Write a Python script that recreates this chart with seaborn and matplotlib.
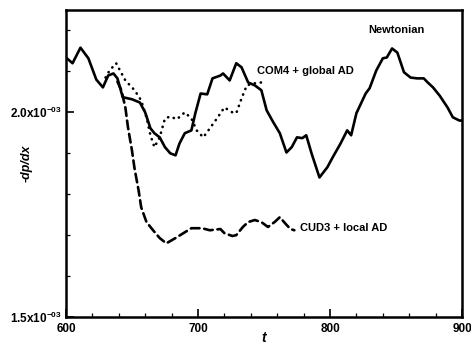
import numpy as np
import pandas as pd
import matplotlib
matplotlib.use("Agg")
import matplotlib.pyplot as plt
import seaborn as sns
from matplotlib.ticker import MultipleLocator, FixedLocator, FixedFormatter

# ---- data (y in units of 1e-3) ----
t_newt = [600, 605, 611, 617, 623, 628, 632, 636, 639, 643, 650, 656, 660, 664, 667,
          671, 675, 679, 683, 686, 690, 695, 698, 702, 707, 711, 717, 719, 724, 729,
          733, 738, 743, 748, 752, 757, 762, 767, 771, 775, 779, 782, 786, 792, 798,
          802, 808, 813, 816, 820, 827, 830, 835, 840, 843, 847, 851, 856, 861, 866,
          871, 874, 878, 883, 889, 893, 898, 900]
y_newt = [2.134, 2.120, 2.158, 2.132, 2.080, 2.061, 2.090, 2.095, 2.083, 2.037, 2.032,
          2.024, 2.000, 1.961, 1.949, 1.939, 1.915, 1.900, 1.895, 1.924, 1.949, 1.956,
          1.998, 2.046, 2.044, 2.083, 2.090, 2.095, 2.078, 2.120, 2.110, 2.073, 2.066,
          2.054, 2.005, 1.976, 1.949, 1.902, 1.915, 1.939, 1.937, 1.944, 1.900, 1.841,
          1.866, 1.890, 1.924, 1.956, 1.944, 1.998, 2.046, 2.059, 2.102, 2.132, 2.134,
          2.156, 2.146, 2.098, 2.085, 2.083, 2.083, 2.073, 2.061, 2.041, 2.012, 1.988,
          1.980, 1.980]

t_com4 = [630, 633, 638, 645, 652, 657, 661, 664, 667, 671, 675, 679, 684, 690, 695,
          699, 704, 709, 715, 720, 726, 729, 733, 737, 743, 748, 752]
y_com4 = [2.085, 2.102, 2.120, 2.078, 2.054, 2.029, 1.988, 1.944, 1.915, 1.939, 1.985,
          1.990, 1.983, 2.000, 1.985, 1.956, 1.939, 1.961, 1.988, 2.012, 2.000, 1.998,
          2.034, 2.066, 2.071, 2.073, 2.073]

t_cud3 = [639, 642, 645, 647, 650, 652, 655, 657, 661, 666, 671, 676, 683, 689, 695,
          703, 709, 717, 720, 726, 729, 734, 738, 743, 748, 753, 758, 762, 766, 770, 773]
y_cud3 = [2.075, 2.054, 2.012, 1.963, 1.907, 1.862, 1.810, 1.768, 1.732, 1.712, 1.693,
          1.680, 1.693, 1.705, 1.717, 1.717, 1.712, 1.715, 1.705, 1.698, 1.700, 1.720,
          1.732, 1.737, 1.732, 1.720, 1.732, 1.744, 1.729, 1.715, 1.712]

series_names = ["Newtonian", "COM4 + global AD", "CUD3 + local AD"]
ytick_vals = [1.5e-3, 2.0e-3]
ytick_labels = [r"$\mathbf{1.5x10^{-03}}$", r"$\mathbf{2.0x10^{-03}}$"]
xtick_vals = [600, 700, 800, 900]

df = pd.concat([
    pd.DataFrame({"t": t_newt, "v": np.array(y_newt) * 1e-3, "s": series_names[0]}),
    pd.DataFrame({"t": t_com4, "v": np.array(y_com4) * 1e-3, "s": series_names[1]}),
    pd.DataFrame({"t": t_cud3, "v": np.array(y_cud3) * 1e-3, "s": series_names[2]}),
])

sns.set_theme(style="ticks")
plt.rcParams["font.family"] = ["Liberation Sans", "DejaVu Sans"]
plt.rcParams["font.weight"] = "bold"
plt.rcParams["mathtext.fontset"] = "custom"
plt.rcParams["mathtext.bf"] = "Liberation Sans:bold"
plt.rcParams["mathtext.rm"] = "Liberation Sans:bold"
plt.rcParams["mathtext.it"] = "Liberation Sans:bold:italic"
for k in ["text.color", "axes.labelcolor", "xtick.color", "ytick.color", "axes.edgecolor"]:
    plt.rcParams[k] = "black"

fig = plt.figure(figsize=(4.71, 3.45), dpi=100)
ax = fig.add_axes([0.140, 0.081, 0.841, 0.890])

styles = {
    series_names[0]: "-",
    series_names[1]: (0, (0.1, 2.2)),
    series_names[2]: (0, (3.3, 1.8)),
}
for name in series_names:
    sub = df[df["s"] == name]
    sns.lineplot(data=sub, x="t", y="v", ax=ax, color="black", lw=1.9,
                 linestyle=styles[name], estimator=None, sort=False,
                 solid_capstyle="round", dash_capstyle="round", legend=False)

ax.set_xlim(600, 900)
ax.set_ylim(1.5e-3, 2.25e-3)

ax.xaxis.set_major_locator(FixedLocator(xtick_vals))
ax.xaxis.set_minor_locator(MultipleLocator(20))
ax.yaxis.set_major_locator(FixedLocator(ytick_vals))
ax.yaxis.set_major_formatter(FixedFormatter(ytick_labels))
ax.yaxis.set_minor_locator(MultipleLocator(1e-4))

ax.tick_params(axis="both", which="major", direction="in", length=6, width=1.2,
               labelsize=8.5, pad=3, colors="black")
ax.tick_params(axis="x", which="major", pad=4.5)
ax.tick_params(axis="both", which="minor", direction="in", length=3, width=0.9,
               colors="black")
for lab in ax.get_xticklabels():
    lab.set_fontweight("bold")

for sp in ax.spines.values():
    sp.set_linewidth(1.8)
    sp.set_color("black")

ax.set_xlabel("t", fontsize=10, fontstyle="italic", fontweight="bold")
ax.xaxis.set_label_coords(0.5, -0.045)
ax.set_ylabel("-dp/dx", fontsize=9, fontstyle="italic", fontweight="bold")
ax.yaxis.set_label_coords(-0.083, 0.5)

ax.text(850, 2.200e-3, "Newtonian", fontsize=8, fontweight="bold", ha="center", va="center")
ax.text(745, 2.102e-3, "COM4 + global AD", fontsize=8, fontweight="bold", ha="left", va="center")
ax.text(777, 1.717e-3, "CUD3 + local AD", fontsize=8, fontweight="bold", ha="left", va="center")

fig.savefig("out.png", dpi=100)
